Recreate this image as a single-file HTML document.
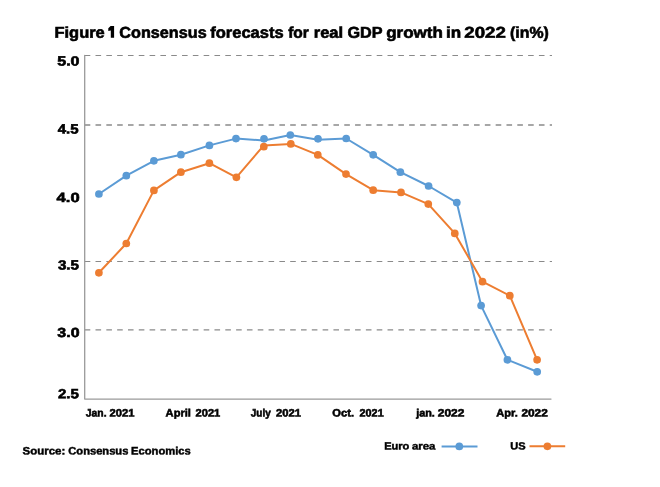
<!DOCTYPE html>
<html><head><meta charset="utf-8"><style>
html,body{margin:0;padding:0;background:#fff;width:660px;height:487px;overflow:hidden}
svg{display:block;will-change:transform}
text{font-family:"Liberation Sans",sans-serif;font-weight:bold;fill:#000;stroke:#000;text-rendering:geometricPrecision}
</style></head><body>
<svg width="660" height="487" viewBox="0 0 660 487">
<rect width="660" height="487" fill="#fff"/>
<line x1="84.7" y1="55.5" x2="552" y2="55.5" stroke="#8a8a8a" stroke-width="1.0" stroke-dasharray="5.6 5.215"/>
<line x1="84.7" y1="125.0" x2="552" y2="125.0" stroke="#8a8a8a" stroke-width="1.3" stroke-dasharray="5.6 5.215"/>
<line x1="84.7" y1="261.5" x2="552" y2="261.5" stroke="#8a8a8a" stroke-width="1.0" stroke-dasharray="5.6 5.215"/>
<line x1="84.7" y1="329.85" x2="552" y2="329.85" stroke="#8a8a8a" stroke-width="1.3" stroke-dasharray="5.6 5.215"/>
<path d="M84.7 55.4 V399.1 H551" fill="none" stroke="#9a9a9a" stroke-width="1.3" stroke-linejoin="round" stroke-linecap="round"/>
<path d="M98.90,194.00 L126.30,175.70 L153.90,160.80 L180.90,154.70 L209.40,145.40 L236.00,138.60 L264.00,140.40 L290.30,135.00 L318.00,139.80 L346.20,138.50 L373.20,154.85 L400.40,172.20 L428.60,186.00 L456.80,202.60 L481.10,305.60 L507.40,359.80 L537.20,371.80" fill="none" stroke="#5B9BD5" stroke-width="2.0" stroke-linejoin="round" stroke-linecap="round"/>
<circle cx="98.90" cy="194.00" r="3.85" fill="#5B9BD5"/>
<circle cx="126.30" cy="175.70" r="3.85" fill="#5B9BD5"/>
<circle cx="153.90" cy="160.80" r="3.85" fill="#5B9BD5"/>
<circle cx="180.90" cy="154.70" r="3.85" fill="#5B9BD5"/>
<circle cx="209.40" cy="145.40" r="3.85" fill="#5B9BD5"/>
<circle cx="236.00" cy="138.60" r="3.85" fill="#5B9BD5"/>
<circle cx="264.00" cy="138.80" r="3.85" fill="#5B9BD5"/>
<circle cx="290.30" cy="135.00" r="3.85" fill="#5B9BD5"/>
<circle cx="318.00" cy="138.80" r="3.85" fill="#5B9BD5"/>
<circle cx="346.20" cy="138.50" r="3.85" fill="#5B9BD5"/>
<circle cx="373.20" cy="154.85" r="3.85" fill="#5B9BD5"/>
<circle cx="400.40" cy="172.20" r="3.85" fill="#5B9BD5"/>
<circle cx="428.60" cy="186.00" r="3.85" fill="#5B9BD5"/>
<circle cx="456.80" cy="202.60" r="3.85" fill="#5B9BD5"/>
<circle cx="481.10" cy="305.60" r="3.85" fill="#5B9BD5"/>
<circle cx="507.40" cy="359.80" r="3.85" fill="#5B9BD5"/>
<circle cx="537.20" cy="371.80" r="3.85" fill="#5B9BD5"/>

<path d="M98.90,272.80 L126.30,243.50 L153.90,190.40 L180.90,172.20 L209.40,163.20 L236.40,177.30 L263.80,145.40 L290.80,143.90 L317.80,154.90 L346.00,174.10 L373.20,190.20 L401.00,192.40 L428.30,204.10 L454.80,233.40 L482.50,281.70 L509.80,295.70 L537.10,359.80" fill="none" stroke="#ED7D31" stroke-width="2.0" stroke-linejoin="round" stroke-linecap="round"/>
<circle cx="98.90" cy="272.80" r="3.85" fill="#ED7D31"/>
<circle cx="126.30" cy="243.50" r="3.85" fill="#ED7D31"/>
<circle cx="153.90" cy="190.40" r="3.85" fill="#ED7D31"/>
<circle cx="180.90" cy="172.20" r="3.85" fill="#ED7D31"/>
<circle cx="209.40" cy="163.20" r="3.85" fill="#ED7D31"/>
<circle cx="236.40" cy="177.30" r="3.85" fill="#ED7D31"/>
<circle cx="263.80" cy="146.70" r="3.85" fill="#ED7D31"/>
<circle cx="290.80" cy="143.90" r="3.85" fill="#ED7D31"/>
<circle cx="317.80" cy="154.90" r="3.85" fill="#ED7D31"/>
<circle cx="346.00" cy="174.10" r="3.85" fill="#ED7D31"/>
<circle cx="373.20" cy="190.20" r="3.85" fill="#ED7D31"/>
<circle cx="401.00" cy="192.40" r="3.85" fill="#ED7D31"/>
<circle cx="428.30" cy="204.10" r="3.85" fill="#ED7D31"/>
<circle cx="454.80" cy="233.40" r="3.85" fill="#ED7D31"/>
<circle cx="482.50" cy="281.70" r="3.85" fill="#ED7D31"/>
<circle cx="509.80" cy="295.70" r="3.85" fill="#ED7D31"/>
<circle cx="537.10" cy="359.80" r="3.85" fill="#ED7D31"/>

<line x1="441.6" y1="446.4" x2="477.5" y2="446.4" stroke="#5B9BD5" stroke-width="2.0"/>
<circle cx="459.3" cy="446.4" r="3.85" fill="#5B9BD5"/>
<line x1="529.5" y1="446.3" x2="565.2" y2="446.3" stroke="#ED7D31" stroke-width="2.0"/>
<circle cx="547.4" cy="446.3" r="3.85" fill="#ED7D31"/>
<path d="M110.6 26.1 L114.1 26.1 L114.1 37.7 L110.8 37.7 L110.8 30.5 L108.3 31.0 L108.3 28.3 Z" fill="#000"/>
<text x="54.50" y="37.80" transform="rotate(0.05 54.50 37.80)" font-size="15.6" stroke-width="0.6" textLength="50.24" lengthAdjust="spacingAndGlyphs">Figure</text>
<text x="119.36" y="37.80" transform="rotate(0.05 119.36 37.80)" font-size="15.6" stroke-width="0.6" textLength="87.29" lengthAdjust="spacingAndGlyphs">Consensus</text>
<text x="210.19" y="37.80" transform="rotate(0.05 210.19 37.80)" font-size="15.6" stroke-width="0.6" textLength="73.42" lengthAdjust="spacingAndGlyphs">forecasts</text>
<text x="288.21" y="37.80" transform="rotate(0.05 288.21 37.80)" font-size="15.6" stroke-width="0.6" textLength="20.69" lengthAdjust="spacingAndGlyphs">for</text>
<text x="313.72" y="37.80" transform="rotate(0.05 313.72 37.80)" font-size="15.6" stroke-width="0.6" textLength="29.44" lengthAdjust="spacingAndGlyphs">real</text>
<text x="347.42" y="37.80" transform="rotate(0.05 347.42 37.80)" font-size="15.6" stroke-width="0.6" textLength="35.11" lengthAdjust="spacingAndGlyphs">GDP</text>
<text x="386.16" y="37.80" transform="rotate(0.05 386.16 37.80)" font-size="15.6" stroke-width="0.6" textLength="56.67" lengthAdjust="spacingAndGlyphs">growth</text>
<text x="446.13" y="37.80" transform="rotate(0.05 446.13 37.80)" font-size="15.6" stroke-width="0.6" textLength="15.13" lengthAdjust="spacingAndGlyphs">in</text>
<text x="464.32" y="37.80" transform="rotate(0.05 464.32 37.80)" font-size="15.6" stroke-width="0.6" textLength="41.52" lengthAdjust="spacingAndGlyphs">2022</text>
<text x="510.09" y="37.80" transform="rotate(0.05 510.09 37.80)" font-size="15.6" stroke-width="0.6" textLength="38.84" lengthAdjust="spacingAndGlyphs">(in%)</text>
<text x="57.25" y="65.50" transform="rotate(0.05 57.25 65.50)" font-size="13.3" stroke-width="0.6" textLength="22.31" lengthAdjust="spacingAndGlyphs">5.0</text>
<text x="57.75" y="133.60" transform="rotate(0.05 57.75 133.60)" font-size="13.3" stroke-width="0.6" textLength="20.84" lengthAdjust="spacingAndGlyphs">4.5</text>
<text x="56.58" y="202.10" transform="rotate(0.05 56.58 202.10)" font-size="13.3" stroke-width="0.6" textLength="23.03" lengthAdjust="spacingAndGlyphs">4.0</text>
<text x="57.91" y="269.60" transform="rotate(0.05 57.91 269.60)" font-size="13.3" stroke-width="0.6" textLength="21.09" lengthAdjust="spacingAndGlyphs">3.5</text>
<text x="57.36" y="337.10" transform="rotate(0.05 57.36 337.10)" font-size="13.3" stroke-width="0.6" textLength="22.15" lengthAdjust="spacingAndGlyphs">3.0</text>
<text x="57.90" y="398.30" transform="rotate(0.05 57.90 398.30)" font-size="13.3" stroke-width="0.6" textLength="20.92" lengthAdjust="spacingAndGlyphs">2.5</text>
<text x="85.84" y="416.50" transform="rotate(0.05 85.84 416.50)" font-size="10.7" stroke-width="0.55" textLength="20.77" lengthAdjust="spacingAndGlyphs">Jan.</text>
<text x="109.48" y="416.50" transform="rotate(0.05 109.48 416.50)" font-size="10.7" stroke-width="0.55" textLength="24.94" lengthAdjust="spacingAndGlyphs">2021</text>
<text x="165.62" y="416.50" transform="rotate(0.05 165.62 416.50)" font-size="10.7" stroke-width="0.55" textLength="25.34" lengthAdjust="spacingAndGlyphs">April</text>
<text x="195.55" y="416.50" transform="rotate(0.05 195.55 416.50)" font-size="10.7" stroke-width="0.55" textLength="24.73" lengthAdjust="spacingAndGlyphs">2021</text>
<text x="250.81" y="416.50" transform="rotate(0.05 250.81 416.50)" font-size="10.7" stroke-width="0.55" textLength="19.90" lengthAdjust="spacingAndGlyphs">July</text>
<text x="275.99" y="416.50" transform="rotate(0.05 275.99 416.50)" font-size="10.7" stroke-width="0.55" textLength="24.92" lengthAdjust="spacingAndGlyphs">2021</text>
<text x="332.35" y="416.50" transform="rotate(0.05 332.35 416.50)" font-size="10.7" stroke-width="0.55" textLength="21.64" lengthAdjust="spacingAndGlyphs">Oct.</text>
<text x="359.58" y="416.50" transform="rotate(0.05 359.58 416.50)" font-size="10.7" stroke-width="0.55" textLength="24.09" lengthAdjust="spacingAndGlyphs">2021</text>
<text x="416.19" y="416.50" transform="rotate(0.05 416.19 416.50)" font-size="10.7" stroke-width="0.55" textLength="18.71" lengthAdjust="spacingAndGlyphs">jan.</text>
<text x="437.81" y="416.50" transform="rotate(0.05 437.81 416.50)" font-size="10.7" stroke-width="0.55" textLength="26.65" lengthAdjust="spacingAndGlyphs">2022</text>
<text x="496.38" y="416.50" transform="rotate(0.05 496.38 416.50)" font-size="10.7" stroke-width="0.55" textLength="21.46" lengthAdjust="spacingAndGlyphs">Apr.</text>
<text x="521.44" y="416.50" transform="rotate(0.05 521.44 416.50)" font-size="10.7" stroke-width="0.55" textLength="26.33" lengthAdjust="spacingAndGlyphs">2022</text>
<text x="22.63" y="454.50" transform="rotate(0.05 22.63 454.50)" font-size="10.9" stroke-width="0.45" textLength="42.66" lengthAdjust="spacingAndGlyphs">Source:</text>
<text x="68.28" y="454.50" transform="rotate(0.05 68.28 454.50)" font-size="10.9" stroke-width="0.45" textLength="60.10" lengthAdjust="spacingAndGlyphs">Consensus</text>
<text x="131.08" y="454.50" transform="rotate(0.05 131.08 454.50)" font-size="10.9" stroke-width="0.45" textLength="59.67" lengthAdjust="spacingAndGlyphs">Economics</text>
<text x="384.19" y="449.50" transform="rotate(0.05 384.19 449.50)" font-size="10.4" stroke-width="0.45" textLength="25.19" lengthAdjust="spacingAndGlyphs">Euro</text>
<text x="411.98" y="449.50" transform="rotate(0.05 411.98 449.50)" font-size="10.4" stroke-width="0.45" textLength="23.45" lengthAdjust="spacingAndGlyphs">area</text>
<text x="510.19" y="449.50" transform="rotate(0.05 510.19 449.50)" font-size="10.4" stroke-width="0.45" textLength="15.34" lengthAdjust="spacingAndGlyphs">US</text>
</svg>
</body></html>
